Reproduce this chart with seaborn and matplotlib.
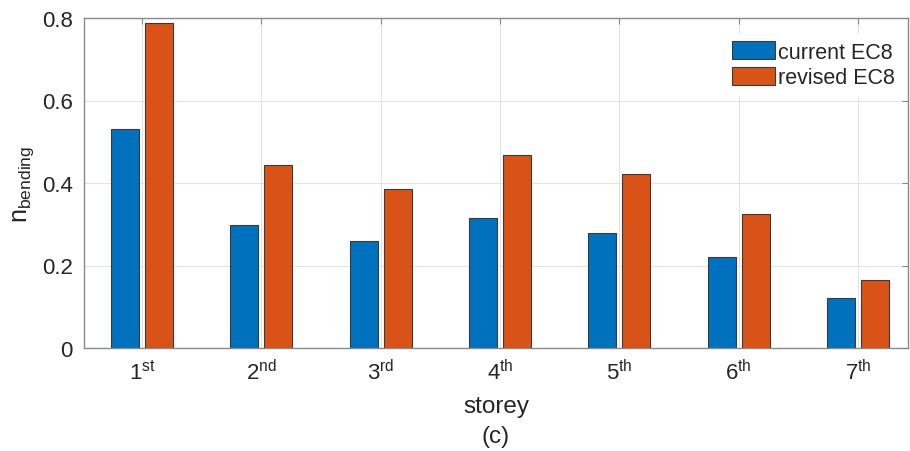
import matplotlib
matplotlib.use("Agg")
import matplotlib.pyplot as plt
import seaborn as sns
import pandas as pd

storeys = ["1st", "2nd", "3rd", "4th", "5th", "6th", "7th"]
tick_labels = [r"$\mathregular{1^{st}}$", r"$\mathregular{2^{nd}}$", r"$\mathregular{3^{rd}}$",
               r"$\mathregular{4^{th}}$", r"$\mathregular{5^{th}}$", r"$\mathregular{6^{th}}$",
               r"$\mathregular{7^{th}}$"]
current_ec8 = [0.531, 0.297, 0.260, 0.314, 0.280, 0.220, 0.121]
revised_ec8 = [0.788, 0.444, 0.385, 0.469, 0.421, 0.324, 0.166]
series_names = ["current EC8", "revised EC8"]
colors = ["#0072BD", "#D95319"]

df = pd.DataFrame({
    "storey": storeys * 2,
    "value": current_ec8 + revised_ec8,
    "series": [series_names[0]] * len(storeys) + [series_names[1]] * len(storeys),
})

sns.set_style("white")
plt.rcParams["font.family"] = ["Liberation Sans", "DejaVu Sans"]
plt.rcParams["mathtext.fontset"] = "custom"
plt.rcParams["mathtext.rm"] = "Liberation Sans"

txt = "#262626"
fig = plt.figure(figsize=(9.10, 4.52), dpi=100)
ax = fig.add_axes([84 / 910, 1 - 349 / 452, (908 - 84) / 910, (349 - 19) / 452])

sns.barplot(data=df, x="storey", y="value", hue="series", palette=colors,
            width=0.57, gap=0.175, edgecolor="#3a3a3a", linewidth=0.8,
            ax=ax, errorbar=None, saturation=1)

ax.set_xlim(-0.486, 6.42)
ax.set_ylim(0, 0.8)
ax.set_yticks([0, 0.2, 0.4, 0.6, 0.8])
ax.set_yticklabels(["0", "0.2", "0.4", "0.6", "0.8"])
ax.set_xticks(range(len(storeys)))
ax.set_xticklabels(tick_labels)
ax.set_axisbelow(True)
ax.grid(True, color="#e3e3e3", linewidth=0.8)
for s in ax.spines.values():
    s.set_visible(True)
    s.set_color("#8a8a8a")
    s.set_linewidth(1.0)
ax.tick_params(axis="both", which="both", direction="in", length=4, width=0.8,
               color="#8a8a8a", top=True, right=True, labelsize=16, labelcolor=txt, pad=8)

ax.set_xlabel("storey", fontsize=17.5, color=txt, labelpad=8)
ax.set_ylabel(r"$\mathregular{n_{bending}}$", fontsize=18, color=txt, labelpad=4)
fig.text(496 / 910, 1 - 437 / 452, "(c)", fontsize=17.5, color=txt, ha="center", va="center")

leg = ax.legend(loc="upper right", bbox_to_anchor=(1.0, 0.97), fontsize=15.5, frameon=True,
                fancybox=False, edgecolor="white", facecolor="white", framealpha=1,
                handlelength=2.0, handleheight=0.95, handletextpad=0.15,
                labelspacing=0.2, borderpad=0.3, borderaxespad=0.3)
for t in leg.get_texts():
    t.set_color(txt)

fig.savefig("out.png", dpi=100)
